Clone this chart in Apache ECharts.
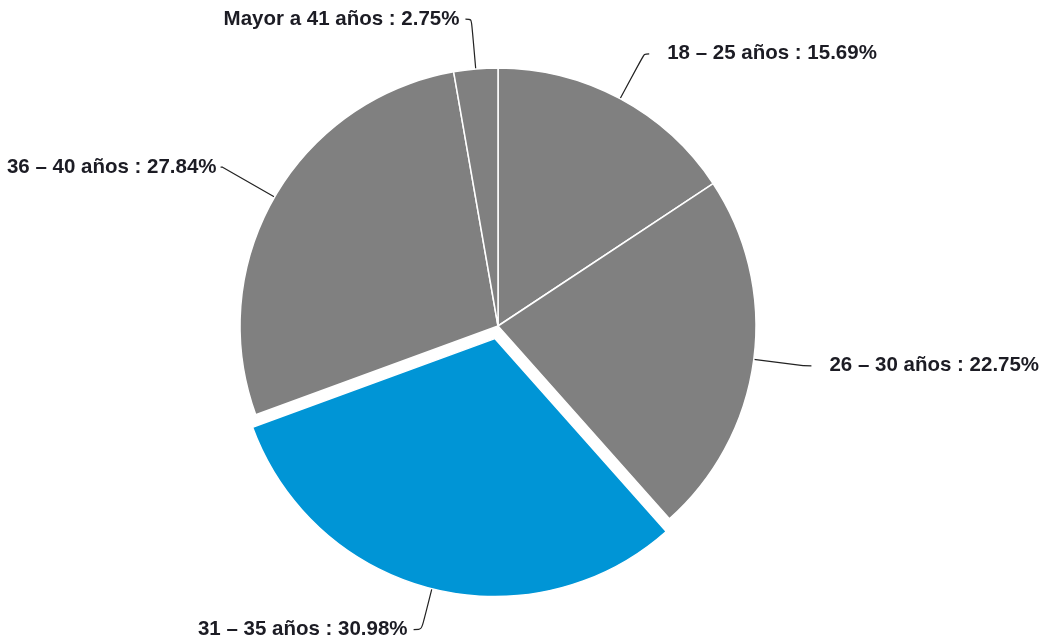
<!DOCTYPE html>
<html>
<head>
<meta charset="utf-8">
<script src="https://cdn.jsdelivr.net/npm/echarts@6/dist/echarts.min.js"></script>
<style>
  html, body { margin: 0; padding: 0; background: #ffffff; }
  #chart { width: 1043px; height: 639px; }
</style>
</head>
<body>
<div id="chart"></div>
<script>
// Age groups and their share of respondents (%)
const categories = ['18 – 25 años', '26 – 30 años', '31 – 35 años', '36 – 40 años', 'Mayor a 41 años'];
const shares = [15.69, 22.75, 30.98, 27.84, 2.75];
const highlighted = '31 – 35 años';

const GRAY = '#808080';
const BLUE = '#0095d6';

// Leader line shape for each label: [radial length, horizontal length, gap to text]
const leaderLines = [
  [51, 5, 18],
  [50, 8, 18],
  [42, 8, 6],
  [60, 2, 4],
  [50, 6, 6]
];

const chart = echarts.init(document.getElementById('chart'));

const data = categories.map((name, i) => ({
  name: name,
  value: shares[i],
  selected: name === highlighted,
  itemStyle: { color: name === highlighted ? BLUE : GRAY },
  label: { distanceToLabelLine: leaderLines[i][2] },
  labelLine: { length: leaderLines[i][0], length2: leaderLines[i][1] }
}));

chart.setOption({
  animation: false,
  series: [{
    type: 'pie',
    center: [498, 326],
    radius: [0, 258],
    startAngle: 90,
    clockwise: true,
    selectedMode: 'single',
    selectedOffset: 13,
    avoidLabelOverlap: false,
    itemStyle: { borderColor: '#ffffff', borderWidth: 1.5 },
    label: {
      show: true,
      formatter: params => params.name + ' : ' + params.value.toFixed(2) + '%',
      fontFamily: 'Liberation Sans',
      fontWeight: 'bold',
      fontSize: 20.5,
      color: '#1c1c24'
    },
    labelLine: {
      show: true,
      smooth: 0.3,
      lineStyle: { color: '#222222', width: 1.2 }
    },
    emphasis: { disabled: true },
    data: data
  }]
});
</script>
</body>
</html>
